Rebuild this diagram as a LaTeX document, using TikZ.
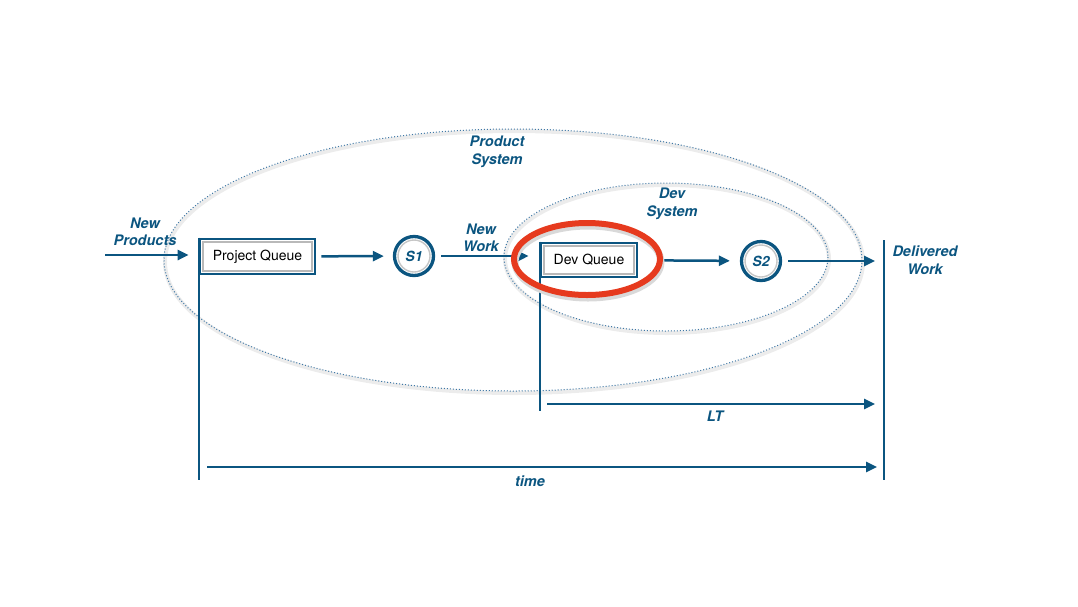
\documentclass[tikz,border=0pt]{standalone}
\usepackage{fontspec}
\setmainfont{TeX Gyre Heros}
\usepackage{xcolor}
\usetikzlibrary{arrows.meta,shapes}
\definecolor{flowblue}{HTML}{0B5580}
\definecolor{sysblue}{HTML}{3F78A6}
\definecolor{focusred}{HTML}{E63A1E}

\begin{document}
\begin{tikzpicture}[x=1pt,y=-1pt,->,>={Triangle[length=11pt,width=10pt]},line width=2.5pt,draw=flowblue,
    queue/.style={rectangle,draw=flowblue,fill=white,line width=2.6pt,minimum width=115pt,minimum height=35pt,
        font=\fontsize{14}{17}\selectfont,text=black,
        path picture={\draw[-,gray!55,line width=1.4pt] ([shift={(3pt,-3pt)}]path picture bounding box.north west)
            rectangle ([shift={(-3pt,3pt)}]path picture bounding box.south east);}},
    server/.style={circle,draw=flowblue,fill=white,line width=3.3pt,minimum size=39pt,inner sep=0pt,
        font=\fontsize{14}{17}\selectfont\bfseries\itshape,text=flowblue,
        path picture={\draw[-,gray!45,line width=1.4pt] (path picture bounding box.center) circle [radius=16pt];}},
    tag/.style={align=center,text=flowblue,font=\fontsize{14.5}{17.5}\selectfont\bfseries\itshape},
    sysring/.style={-,draw=sysblue,line width=1pt,dotted},
    ringshade/.style={-,draw=gray!15,line width=4pt},
    wall/.style={-,line width=2pt}]
    \useasboundingbox (0,0) rectangle (1078,606);
    % system boundaries
    \draw[ringshade] (514,262) ellipse [x radius=349, y radius=131];
    \draw[sysring] (513,260) ellipse [x radius=349, y radius=131];
    \draw[ringshade] (667,259) ellipse [x radius=162, y radius=74];
    \draw[sysring] (666,257) ellipse [x radius=162, y radius=74];
    \node[tag] (prodsys) at (497,152) {Product\\System};
    \node[tag] (devsys) at (672,204) {Dev\\System};
    % flow
    \coordinate (np) at (105,255);
    \coordinate (dtop) at (884,240);
    \coordinate (dbot) at (884,480);
    \coordinate (lt0) at (547,404);
    \coordinate (t0) at (207,467);
    \node[queue] (pq) at (257.5,256.5) {Project Queue};
    \node[server] (s1) at (414,256) {S1};
    \node[queue,minimum width=96pt,minimum height=34pt] (dq) at (589,260) {Dev Queue};
    \node[server] (s2) at (761,261) {S2};
    \node[tag] (newprod) at (145,232) {New\\Products};
    \node[tag] (newwork) at (481,238) {New\\Work};
    \node[tag] (delwork) at (925,260) {Delivered\\Work};
    \draw[shorten >=10pt] (np) -- (np -| pq.west);
    \draw[shorten <=5pt,shorten >=9pt] (pq) -- (s1);
    \draw[shorten <=6pt,shorten >=11pt] (s1) -- (s1 -| dq.west);
    \draw[shorten <=21pt,shorten >=10pt] (dq) -- (s2);
    \draw[shorten <=6pt,shorten >=9pt] (s2) -- (s2 -| dtop);
    % time lines
    \draw[wall] (dtop) -- (dbot);
    \draw[wall] (pq.north west) -- (pq.north west |- dbot);
    \draw[wall] (dq.north west) -- (dq.north west |- 0,411);
    \draw[shorten >=9pt] (lt0) -- (lt0 -| dtop);
    \node[tag] (lt) at (715,416) {LT};
    \draw[shorten >=7pt] (t0) -- (t0 -| dtop);
    \node[tag] (time) at (530,481) {time};
    % focus
    \draw[-,draw=gray!30,line width=7pt] (588,262) ellipse [x radius=73, y radius=36];
    \draw[-,draw=focusred,line width=6pt] (587,259) ellipse [x radius=73, y radius=36];
\end{tikzpicture}
\end{document}
